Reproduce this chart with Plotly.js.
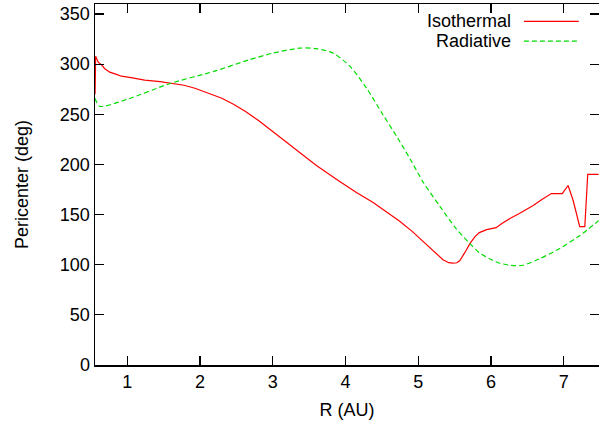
<!DOCTYPE html>
<html>
<head>
<meta charset="utf-8">
<script src="https://cdn.plot.ly/plotly-3.0.1.min.js"></script>
<style>html,body{margin:0;padding:0;background:#fff;}#chart{width:599px;height:425px;}</style>
</head>
<body>
<div id="chart"></div>
<script>
// Isothermal (red, solid)
var isoR = [0.557, 0.565, 0.60, 0.65, 0.69, 0.76, 0.84, 0.92, 1.05, 1.24, 1.45, 1.61, 1.78, 1.93, 2.10, 2.30, 2.46, 2.62, 2.80, 2.98, 3.15, 3.37, 3.60, 3.90, 4.15, 4.38, 4.60, 4.75, 4.92, 5.07, 5.22, 5.34, 5.42, 5.48, 5.53, 5.57, 5.64, 5.71, 5.78, 5.84, 5.94, 6.07, 6.15, 6.26, 6.39, 6.58, 6.70, 6.83, 6.98, 7.06, 7.13, 7.22, 7.29, 7.33, 7.48];
var isoP = [270, 308, 302, 299, 295.5, 292, 290, 288, 286.5, 284, 282.5, 281, 279, 276, 271.5, 266, 260, 253, 244, 234, 224, 212, 199, 184, 172, 162, 151, 143, 133, 123, 113, 105, 102, 101.5, 102, 104, 112, 121, 128, 132, 135, 137, 141, 146, 151, 159, 165, 171, 171, 179, 164, 138, 138, 190, 190];
// Radiative (green, dashed)
var radR = [0.556, 0.62, 1.00, 1.60, 2.20, 2.66, 3.00, 3.37, 3.60, 3.83, 4.06, 4.29, 4.52, 4.72, 4.90, 5.07, 5.30, 5.52, 5.71, 5.84, 5.98, 6.10, 6.26, 6.44, 6.67, 6.94, 7.22, 7.48];
var radP = [266, 258, 265, 281, 293, 304, 311, 316, 315.5, 311, 298, 276, 249, 226, 204, 182, 158, 136, 121, 112, 106, 102, 99.5, 99.5, 106, 116, 129, 144];

var xTicks = [1, 2, 3, 4, 5, 6, 7];
var yTicks = [0, 50, 100, 150, 200, 250, 300, 350];

var font = {family: 'Liberation Sans, Arial, Helvetica, sans-serif', size: 18, color: '#000'};

var traces = [
  {x: isoR, y: isoP, mode: 'lines', name: 'Isothermal', line: {color: '#ff0000', width: 1.2}, showlegend: false},
  {x: radR, y: radP, mode: 'lines', name: 'Radiative', line: {color: '#00dd00', width: 1.2, dash: '5px,3px', shape: 'spline', smoothing: 0.7}, showlegend: false}
];

var layout = {
  width: 599, height: 425,
  margin: {l: 95, r: 0, t: 4, b: 60},
  paper_bgcolor: '#fff', plot_bgcolor: '#fff',
  font: font,
  showlegend: false,
  xaxis: {
    range: [0.556, 7.485], tickvals: xTicks, ticktext: xTicks.map(String),
    ticks: 'inside', ticklen: 9, tickwidth: 1.2, tickcolor: '#000',
    showline: true, linecolor: '#000', linewidth: 1.5, mirror: 'ticks',
    showgrid: false, zeroline: false,
    title: {text: 'R (AU)', font: font, standoff: 12}
  },
  yaxis: {
    range: [0, 360], tickvals: yTicks, ticktext: yTicks.map(String),
    ticks: 'inside', ticklen: 9, tickwidth: 1.2, tickcolor: '#000',
    showline: true, linecolor: '#000', linewidth: 1.5, mirror: 'ticks',
    showgrid: false, zeroline: false,
    title: {text: 'Pericenter (deg)', font: font, standoff: 26}
  },
  annotations: [
    {xref: 'paper', yref: 'paper', x: 0.83, y: 0.952, xanchor: 'right', yanchor: 'middle', text: 'Isothermal', showarrow: false, font: font},
    {xref: 'paper', yref: 'paper', x: 0.83, y: 0.897, xanchor: 'right', yanchor: 'middle', text: 'Radiative', showarrow: false, font: font}
  ],
  shapes: [
    {type: 'line', xref: 'paper', yref: 'paper', x0: 0.851, x1: 0.96, y0: 0.952, y1: 0.952, line: {color: '#ff0000', width: 1.2}},
    {type: 'line', xref: 'paper', yref: 'paper', x0: 0.851, x1: 0.96, y0: 0.897, y1: 0.897, line: {color: '#00dd00', width: 1.2, dash: '5px,3px'}}
  ]
};

Plotly.newPlot('chart', traces, layout, {displayModeBar: false, staticPlot: true});
</script>
</body>
</html>
